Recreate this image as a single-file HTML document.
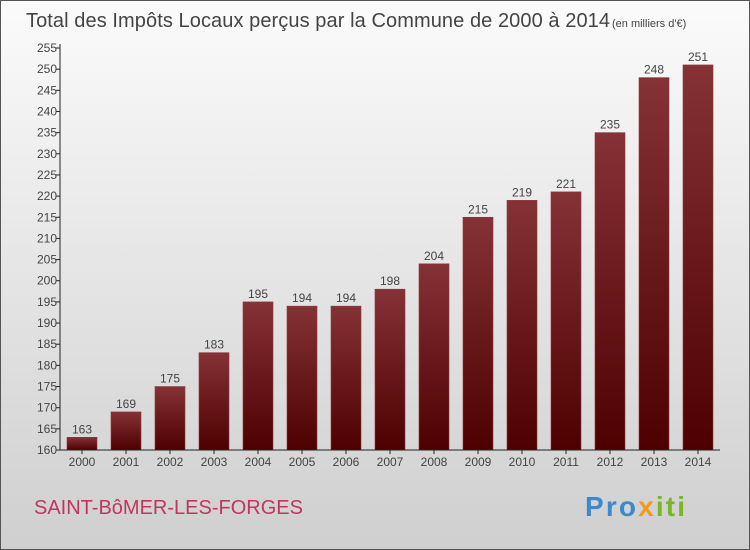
<!DOCTYPE html>
<html><head><meta charset="utf-8"><style>
body{margin:0}
svg{display:block;font-family:"Liberation Sans",sans-serif}
</style></head><body>
<svg width="750" height="550" viewBox="0 0 750 550">
<defs>
<linearGradient id="bg" x1="0" y1="0" x2="0" y2="1"><stop offset="0" stop-color="#fbfbfb"/><stop offset="1" stop-color="#cfcfcf"/></linearGradient>
<linearGradient id="bar" x1="0" y1="0" x2="0" y2="1"><stop offset="0" stop-color="#853236"/><stop offset="1" stop-color="#4e0000"/></linearGradient>
</defs>
<rect x="0.5" y="0.5" width="749" height="549" fill="url(#bg)" stroke="#555"/>
<text x="26" y="27" font-size="20" fill="#444" textLength="584">Total des Impôts Locaux perçus par la Commune de 2000 à 2014</text>
<text x="612" y="27" font-size="11" fill="#444">(en milliers d'€)</text>
<g id="yaxis"></g>
<g id="bars"></g>
<g id="xaxis"></g>
<text x="34" y="514" font-size="20" fill="#c0365e">SAINT-BôMER-LES-FORGES</text>
<text x="585" y="516" font-size="28" font-weight="bold" textLength="100"><tspan fill="#3a8ad0">Pro</tspan><tspan fill="#f29b1a">x</tspan><tspan fill="#7ab527">iti</tspan></text>
</svg>
<script>
const categories=["2000","2001","2002","2003","2004","2005","2006","2007","2008","2009","2010","2011","2012","2013","2014"];
const values=[163,169,175,183,195,194,194,198,204,215,219,221,235,248,251];
const yTicks=[160,165,170,175,180,185,190,195,200,205,210,215,220,225,230,235,240,245,250,255];
const NS="http://www.w3.org/2000/svg";
const x0=60,x1=720,yBase=450,yMin=160,yMax=255,yTop=48;
const band=(x1-x0)/categories.length;
function y(v){return yBase-(v-yMin)*(yBase-yTop)/(yMax-yMin);}
function xb(i){return x0+i*band;}
function mk(t,a,p){const e=document.createElementNS(NS,t);for(const k in a)e.setAttribute(k,a[k]);p.appendChild(e);return e;}
const ya=document.getElementById('yaxis'),ba=document.getElementById('bars'),xa=document.getElementById('xaxis');
mk('line',{x1:x0,y1:y(yMax)-4,x2:x0,y2:yBase,stroke:'#222','stroke-width':1},ya);
yTicks.forEach(v=>{
 const l=mk('line',{x1:x0-4,x2:x0,y1:y(v),y2:y(v),stroke:'#222'},ya);
 
 
 const t=mk('text',{x:x0-3,y:y(v)+4,'font-size':12,'text-anchor':'end',fill:'#444'},ya);
 t.textContent=v;
 
 
});
mk('line',{x1:x0,x2:x1,y1:yBase,y2:yBase,stroke:'#222'},xa);
categories.forEach((c,i)=>{
 const bx=xb(i)+7,bw=band-14,v=values[i];
 const r=mk('rect',{x:bx,y:y(v),width:bw,height:yBase-y(v),fill:'url(#bar)',stroke:'#8a3a3e','stroke-width':0.6},ba);
 
 
 const vl=mk('text',{x:bx+bw/2,y:y(v)-4,'font-size':12,'text-anchor':'middle',fill:'#444'},ba);
 vl.textContent=v;
 
 
 const tk=mk('line',{x1:bx+bw/2,x2:bx+bw/2,y1:yBase,y2:yBase+4,stroke:'#222'},xa);
 
 
 const xl=mk('text',{x:bx+bw/2,y:yBase+16,'font-size':12,'text-anchor':'middle',fill:'#444'},xa);
 xl.textContent=c;
 
 
});
</script>
</body></html>
